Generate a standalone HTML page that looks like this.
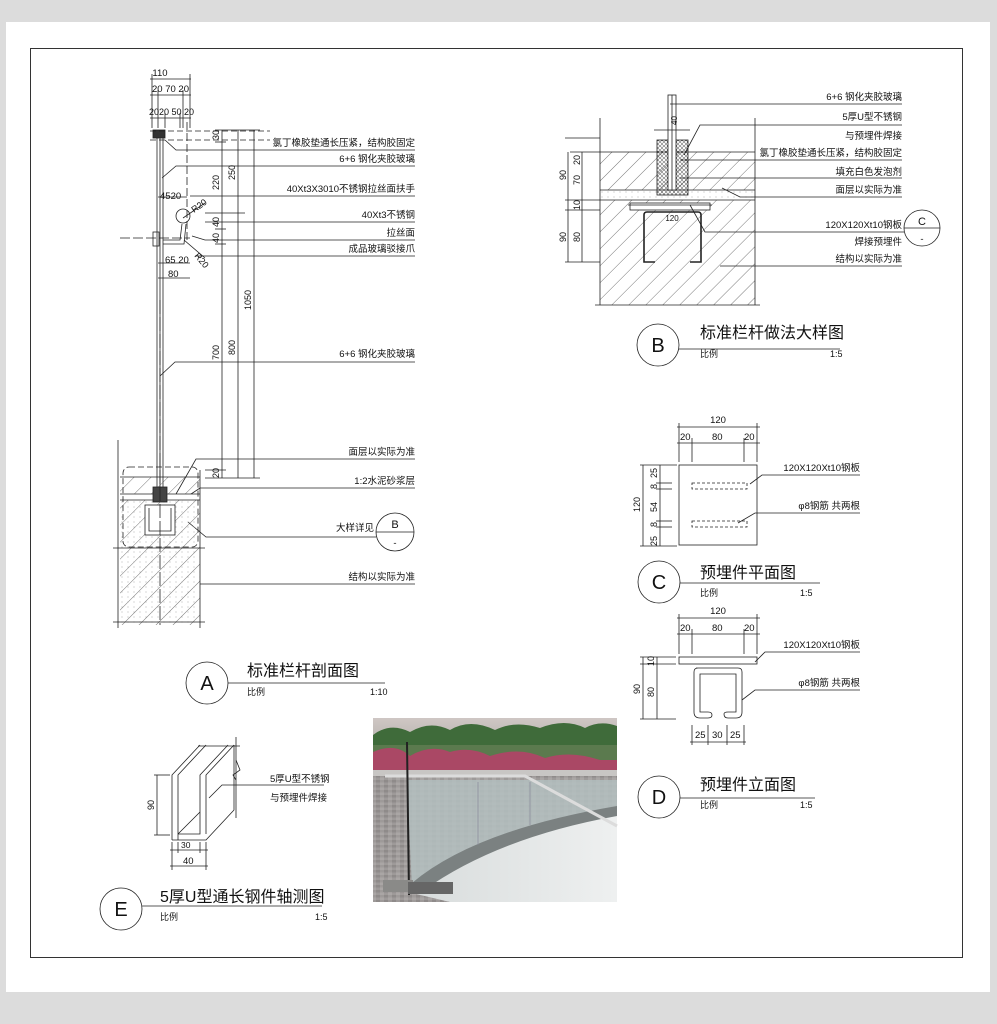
<!DOCTYPE html>
<html><head><meta charset="utf-8"><style>
html,body{margin:0;padding:0;background:#dcdcdc;}
svg{display:block;}
text{font-family:"Liberation Sans","Noto Sans CJK SC",sans-serif;fill:#111;}
</style></head><body>
<svg width="997" height="1024" viewBox="0 0 997 1024" xmlns="http://www.w3.org/2000/svg">
<defs>
<pattern id="hat" width="12" height="12" patternUnits="userSpaceOnUse" patternTransform="rotate(45)">
<line x1="0" y1="0" x2="0" y2="12" stroke="#555" stroke-width="0.8"/></pattern>
<pattern id="dots" width="6" height="5" patternUnits="userSpaceOnUse">
<circle cx="2" cy="2" r="0.5" fill="#999"/></pattern>
<pattern id="hex" width="4" height="4" patternUnits="userSpaceOnUse">
<circle cx="2" cy="2" r="1.4" fill="none" stroke="#333" stroke-width="0.5"/></pattern>
<pattern id="pave" width="8" height="5" patternUnits="userSpaceOnUse">
<rect width="8" height="5" fill="#9e9a99"/><rect x="0" y="0" width="4" height="2.5" fill="#8f8b8a"/><rect x="4" y="2.5" width="4" height="2.5" fill="#aaa6a5"/></pattern>
<linearGradient id="sky" x1="0" y1="0" x2="0" y2="1"><stop offset="0" stop-color="#cfc7c4"/><stop offset="1" stop-color="#b9b4b0"/></linearGradient>
<linearGradient id="wall" x1="0" y1="0" x2="1" y2="0"><stop offset="0" stop-color="#d8dcdc"/><stop offset="1" stop-color="#eef0f0"/></linearGradient>
</defs>
<rect x="6" y="22" width="984" height="970" fill="#fff"/>
<rect x="30.5" y="48.5" width="932" height="909" fill="none" stroke="#333" stroke-width="1"/>

<g stroke="#222" stroke-width="0.8" fill="none">
<line x1="150" y1="79" x2="191" y2="79"/><line x1="150" y1="95" x2="191" y2="95"/><line x1="150" y1="118" x2="191" y2="118"/>
<line x1="152" y1="74" x2="152" y2="128"/><line x1="190" y1="74" x2="190" y2="128"/>
<line x1="158" y1="90" x2="158" y2="128"/><line x1="183" y1="90" x2="183" y2="128"/>
<line x1="165" y1="113" x2="165" y2="128"/><line x1="180" y1="113" x2="180" y2="128"/>
<line x1="157" y1="138" x2="157" y2="490"/><line x1="160" y1="138" x2="160" y2="490"/><line x1="163" y1="138" x2="163" y2="490"/>
<rect x="153" y="130" width="12" height="8" fill="#333"/>
<line x1="150" y1="131" x2="270" y2="131" stroke-dasharray="6,3"/>
<line x1="150" y1="140" x2="270" y2="140" stroke-dasharray="6,3"/>
<line x1="187" y1="122" x2="187" y2="240" stroke-dasharray="8,3"/>
<line x1="120" y1="238" x2="190" y2="238" stroke-dasharray="10,3"/>
<circle cx="183" cy="216" r="7"/>
<path d="M163 240 L180 240 L182 224 M163 244 L184 244 L186 224"/>
<rect x="153" y="232" width="6" height="14"/>
<line x1="183" y1="218" x2="205" y2="203"/><line x1="184" y1="240" x2="205" y2="258"/>
<line x1="222" y1="130" x2="222" y2="478"/><line x1="238" y1="130" x2="238" y2="478"/><line x1="254" y1="130" x2="254" y2="478"/>
<line x1="215" y1="130" x2="260" y2="130"/><line x1="215" y1="142" x2="226" y2="142"/>
<line x1="205" y1="213" x2="245" y2="213"/><line x1="215" y1="229" x2="226" y2="229"/><line x1="215" y1="244" x2="226" y2="244"/>
<line x1="205" y1="470" x2="226" y2="470"/><line x1="205" y1="478" x2="260" y2="478"/>
<line x1="158" y1="197" x2="187" y2="197"/><line x1="158" y1="263" x2="190" y2="263"/><line x1="158" y1="278" x2="190" y2="278"/>
<path d="M165 140 L176 150 L415 150"/>
<path d="M162 178 L176 166 L415 166"/>
<path d="M190 196 L415 196"/>
<path d="M205 222 L415 222"/>
<path d="M192 236 L205 240 L415 240"/>
<path d="M195 256 L415 256"/>
<path d="M160 376 L175 362 L415 362"/>
<path d="M176 494 L196 459 L415 459"/>
<path d="M182 500 L200 488 L415 488"/>
<path d="M188 522 L206 537 L376 537"/>
<path d="M200 584 L415 584"/>
<circle cx="395" cy="532" r="19"/><line x1="376" y1="532" x2="414" y2="532"/>
<rect x="120" y="477" width="80" height="148" fill="url(#hat)" stroke="none"/>
<rect x="120" y="494" width="80" height="6" fill="#fff" stroke="none"/>
<rect x="120" y="500" width="80" height="125" fill="url(#dots)" stroke="none"/>
<line x1="118" y1="440" x2="118" y2="628"/><line x1="200" y1="470" x2="200" y2="628"/>
<line x1="120" y1="477" x2="200" y2="477"/><line x1="120" y1="494" x2="200" y2="494"/><line x1="120" y1="500" x2="200" y2="500"/>
<line x1="113" y1="548" x2="205" y2="548"/><line x1="113" y1="622" x2="205" y2="622"/>
<rect x="123" y="467" width="75" height="80" rx="6" stroke-dasharray="6,3"/>
<rect x="153" y="487" width="14" height="15" fill="#444"/>
<rect x="145" y="505" width="30" height="30" fill="#fff"/>
<path d="M149 508 L149 531 L171 531 L171 508"/>
<line x1="160" y1="300" x2="160" y2="625" stroke-dasharray="14,3"/>

<line x1="570" y1="152" x2="600" y2="152"/>
<rect x="600" y="152" width="155" height="38" fill="url(#hat)" stroke="none"/>
<rect x="600" y="190" width="155" height="10" fill="url(#dots)" stroke="none"/>
<rect x="600" y="200" width="155" height="105" fill="url(#hat)" stroke="none"/>
<line x1="600" y1="118" x2="600" y2="305"/><line x1="755" y1="118" x2="755" y2="305"/>
<line x1="600" y1="152" x2="755" y2="152"/><line x1="600" y1="190" x2="755" y2="190"/><line x1="600" y1="200" x2="755" y2="200"/>
<line x1="595" y1="305" x2="760" y2="305"/>
<rect x="657" y="140" width="31" height="55" fill="url(#hex)"/>
<rect x="668" y="95" width="8" height="95" fill="#fff"/>
<line x1="672" y1="95" x2="672" y2="190"/>
<rect x="630" y="203" width="80" height="7" fill="#fff"/>
<path d="M647 212 L698 212 Q701 212 701 215 L701 262 L690 262 M647 212 Q644 212 644 215 L644 262 L655 262" stroke-width="1.6"/>
<line x1="628" y1="205" x2="712" y2="205"/>
<line x1="568" y1="152" x2="568" y2="262"/><line x1="582" y1="152" x2="582" y2="262"/>
<line x1="565" y1="138" x2="600" y2="138"/><line x1="565" y1="200" x2="600" y2="200"/><line x1="565" y1="210" x2="600" y2="210"/><line x1="565" y1="262" x2="600" y2="262"/>
<line x1="654" y1="130" x2="690" y2="130"/>
<path d="M670 104 L902 104"/><path d="M684 155 L700 125 L902 125"/><path d="M680 160 L902 160"/>
<path d="M680 178 L902 178"/><path d="M722 188 L740 197 L902 197"/><path d="M690 205 L705 232 L904 232"/><path d="M720 266 L902 266"/>
<circle cx="922" cy="228" r="18"/><line x1="904" y1="228" x2="940" y2="228"/>
<circle cx="658" cy="345" r="21"/><line x1="679" y1="349" x2="840" y2="349"/>

<rect x="679" y="465" width="78" height="80"/>
<rect x="692" y="483" width="55" height="6" stroke-dasharray="3,2"/>
<rect x="692" y="521" width="55" height="6" stroke-dasharray="3,2"/>
<line x1="677" y1="427" x2="760" y2="427"/><line x1="677" y1="443" x2="760" y2="443"/>
<line x1="679" y1="423" x2="679" y2="462"/><line x1="757" y1="423" x2="757" y2="462"/>
<line x1="692" y1="438" x2="692" y2="462"/><line x1="744" y1="438" x2="744" y2="462"/>
<line x1="643" y1="465" x2="643" y2="546"/><line x1="660" y1="465" x2="660" y2="546"/>
<line x1="640" y1="465" x2="677" y2="465"/><line x1="640" y1="546" x2="677" y2="546"/>
<line x1="656" y1="483" x2="672" y2="483"/><line x1="656" y1="489" x2="672" y2="489"/>
<line x1="656" y1="521" x2="672" y2="521"/><line x1="656" y1="527" x2="672" y2="527"/>
<path d="M750 484 L762 475 L860 475"/><path d="M738 523 L755 513 L860 513"/>
<circle cx="659" cy="582" r="21"/><line x1="680" y1="583" x2="820" y2="583"/>

<rect x="679" y="657" width="78" height="7"/>
<path d="M696 668 L738 668 Q742 668 742 672 L742 712 Q742 718 736 718 L728 718 Q724 718 724 714 Q724 712 728 712 L736 712 L736 674 L700 674 L700 712 L708 712 Q712 712 712 715 Q712 718 708 718 L700 718 Q694 718 694 712 L694 672 Q694 668 698 668"/>
<line x1="677" y1="618" x2="760" y2="618"/><line x1="677" y1="634" x2="760" y2="634"/>
<line x1="679" y1="614" x2="679" y2="654"/><line x1="757" y1="614" x2="757" y2="654"/>
<line x1="692" y1="629" x2="692" y2="654"/><line x1="744" y1="629" x2="744" y2="654"/>
<line x1="643" y1="657" x2="643" y2="719"/><line x1="657" y1="657" x2="657" y2="719"/>
<line x1="640" y1="657" x2="676" y2="657"/><line x1="640" y1="664" x2="676" y2="664"/><line x1="640" y1="719" x2="676" y2="719"/>
<line x1="690" y1="742" x2="746" y2="742"/>
<line x1="692" y1="725" x2="692" y2="745"/><line x1="708" y1="725" x2="708" y2="745"/><line x1="727" y1="725" x2="727" y2="745"/><line x1="744" y1="725" x2="744" y2="745"/>
<path d="M755 662 L765 652 L860 652"/><path d="M742 700 L755 690 L860 690"/>
<circle cx="659" cy="797" r="21"/><line x1="680" y1="798" x2="815" y2="798"/>

<circle cx="207" cy="683" r="21"/><line x1="228" y1="683" x2="385" y2="683"/>

<path d="M172 840 L172 775 L200 745 M178 840 L178 775 L206 745 M178 834 L200 834 L200 775 L228 745 M206 834 L206 775 L234 745 M172 840 L206 840 L234 810 L234 745 M200 834 L178 834 M178 834 L200 812"/>
<line x1="198" y1="746" x2="240" y2="746"/><line x1="236" y1="737" x2="236" y2="818"/>
<path d="M236 760 L240 770 L233 775 L236 780"/>
<path d="M209 798 L222 785 L324 785"/>
<line x1="157" y1="775" x2="157" y2="835"/><line x1="154" y1="775" x2="170" y2="775"/><line x1="154" y1="835" x2="170" y2="835"/>
<line x1="172" y1="842" x2="172" y2="870"/><line x1="206" y1="842" x2="206" y2="870"/><line x1="178" y1="842" x2="178" y2="853"/><line x1="200" y1="842" x2="200" y2="853"/>
<line x1="170" y1="850" x2="208" y2="850"/><line x1="170" y1="866" x2="208" y2="866"/>
<circle cx="121" cy="909" r="21"/><line x1="142" y1="906" x2="322" y2="906"/>
</g>

<g font-size="9.5">
<text x="160" y="76" text-anchor="middle">110</text>
<text x="152" y="92">20 70 20</text>
<text x="149" y="115" font-size="9">2020 50 20</text>
<text x="160" y="199">4520</text>
<text x="165" y="263">65 20</text>
<text x="168" y="277">80</text>
<text x="415" y="146" text-anchor="end">氯丁橡胶垫通长压紧，结构胶固定</text>
<text x="415" y="162" text-anchor="end">6+6 钢化夹胶玻璃</text>
<text x="415" y="192" text-anchor="end">40Xt3X3010不锈钢拉丝面扶手</text>
<text x="415" y="218" text-anchor="end">40Xt3不锈钢</text>
<text x="415" y="236" text-anchor="end">拉丝面</text>
<text x="415" y="252" text-anchor="end">成品玻璃驳接爪</text>
<text x="415" y="357" text-anchor="end">6+6 钢化夹胶玻璃</text>
<text x="415" y="455" text-anchor="end">面层以实际为准</text>
<text x="415" y="484" text-anchor="end">1:2水泥砂浆层</text>
<text x="374" y="531" text-anchor="end">大样详见</text>
<text x="415" y="580" text-anchor="end">结构以实际为准</text>
<text x="395" y="528" text-anchor="middle" font-size="11">B</text><text x="395" y="546" text-anchor="middle">-</text>
<g font-size="9">
<text transform="translate(219,140) rotate(-90)">30</text>
<text transform="translate(219,190) rotate(-90)">220</text>
<text transform="translate(235,180) rotate(-90)">250</text>
<text transform="translate(219,227) rotate(-90)">40</text>
<text transform="translate(219,243) rotate(-90)">40</text>
<text transform="translate(251,310) rotate(-90)">1050</text>
<text transform="translate(235,355) rotate(-90)">800</text>
<text transform="translate(219,360) rotate(-90)">700</text>
<text transform="translate(219,478) rotate(-90)">20</text>
<text transform="translate(194,213) rotate(-35)">R20</text>
<text transform="translate(194,256) rotate(50)">R20</text>
</g>
</g>
<text x="207" y="690" text-anchor="middle" font-size="20">A</text>
<text x="247" y="676" font-size="16">标准栏杆剖面图</text>
<text x="247" y="695" font-size="9">比例</text><text x="370" y="695" font-size="9" fill="#555">1:10</text>

<g font-size="9.5">
<text x="902" y="100" text-anchor="end">6+6 钢化夹胶玻璃</text>
<text x="902" y="120" text-anchor="end">5厚U型不锈钢</text>
<text x="902" y="139" text-anchor="end">与预埋件焊接</text>
<text x="902" y="156" text-anchor="end">氯丁橡胶垫通长压紧，结构胶固定</text>
<text x="902" y="175" text-anchor="end">填充白色发泡剂</text>
<text x="902" y="193" text-anchor="end">面层以实际为准</text>
<text x="902" y="228" text-anchor="end">120X120Xt10钢板</text>
<text x="902" y="245" text-anchor="end">焊接预埋件</text>
<text x="902" y="262" text-anchor="end">结构以实际为准</text>
<text x="922" y="225" text-anchor="middle" font-size="11">C</text><text x="922" y="242" text-anchor="middle">-</text>
<text x="672" y="221" text-anchor="middle" font-size="8">120</text>
<g font-size="9">
<text transform="translate(566,180) rotate(-90)">90</text>
<text transform="translate(580,165) rotate(-90)">20</text>
<text transform="translate(580,185) rotate(-90)">70</text>
<text transform="translate(580,210) rotate(-90)">10</text>
<text transform="translate(566,242) rotate(-90)">90</text>
<text transform="translate(580,242) rotate(-90)">80</text>
<text transform="translate(677,125) rotate(-90)" font-size="8">40</text>
</g>
</g>
<text x="658" y="352" text-anchor="middle" font-size="20">B</text>
<text x="700" y="338" font-size="16">标准栏杆做法大样图</text>
<text x="700" y="357" font-size="9">比例</text><text x="830" y="357" font-size="9" fill="#555">1:5</text>

<g font-size="9.5">
<text x="718" y="423" text-anchor="middle">120</text>
<text x="680" y="440">20</text><text x="712" y="440">80</text><text x="744" y="440">20</text>
<text x="860" y="471" text-anchor="end">120X120Xt10钢板</text>
<text x="860" y="509" text-anchor="end">φ8钢筋 共两根</text>
<g font-size="9">
<text transform="translate(640,512) rotate(-90)">120</text>
<text transform="translate(657,478) rotate(-90)">25</text>
<text transform="translate(657,489) rotate(-90)">8</text>
<text transform="translate(657,512) rotate(-90)">54</text>
<text transform="translate(657,527) rotate(-90)">8</text>
<text transform="translate(657,546) rotate(-90)">25</text>
</g>
</g>
<text x="659" y="589" text-anchor="middle" font-size="20">C</text>
<text x="700" y="578" font-size="16">预埋件平面图</text>
<text x="700" y="596" font-size="9">比例</text><text x="800" y="596" font-size="9" fill="#555">1:5</text>

<g font-size="9.5">
<text x="718" y="614" text-anchor="middle">120</text>
<text x="680" y="631">20</text><text x="712" y="631">80</text><text x="744" y="631">20</text>
<text x="860" y="648" text-anchor="end">120X120Xt10钢板</text>
<text x="860" y="686" text-anchor="end">φ8钢筋 共两根</text>
<text x="695" y="738">25</text><text x="712" y="738">30</text><text x="730" y="738">25</text>
<g font-size="9">
<text transform="translate(640,694) rotate(-90)">90</text>
<text transform="translate(654,697) rotate(-90)">80</text>
<text transform="translate(654,666) rotate(-90)">10</text>
</g>
</g>
<text x="659" y="804" text-anchor="middle" font-size="20">D</text>
<text x="700" y="790" font-size="16">预埋件立面图</text>
<text x="700" y="808" font-size="9">比例</text><text x="800" y="808" font-size="9" fill="#555">1:5</text>

<g font-size="9.5">
<text x="270" y="782">5厚U型不锈钢</text>
<text x="270" y="801">与预埋件焊接</text>
<text x="181" y="848" font-size="8.5">30</text>
<text x="183" y="864">40</text>
<text transform="translate(154,810) rotate(-90)" font-size="9">90</text>
</g>
<text x="121" y="916" text-anchor="middle" font-size="20">E</text>
<text x="160" y="902" font-size="16">5厚U型通长钢件轴测图</text>
<text x="160" y="920" font-size="9">比例</text><text x="315" y="920" font-size="9" fill="#555">1:5</text>

<g>
<rect x="373" y="718" width="244" height="184" fill="url(#pave)"/>
<rect x="373" y="718" width="244" height="25" fill="url(#sky)"/>
<path d="M373 735 Q390 722 410 732 Q430 720 450 730 Q470 718 495 730 Q515 720 540 728 Q565 718 585 728 Q600 720 617 726 L617 770 L373 770 Z" fill="#3f6b3a"/>
<rect x="373" y="745" width="244" height="25" fill="#5b7a4e"/>
<path d="M373 752 Q395 742 410 756 Q430 744 450 752 Q470 746 490 756 Q520 746 545 758 Q570 750 600 760 L617 760 L617 772 L373 772 Z" fill="#b8406a" opacity="0.85"/>
<rect x="373" y="770" width="244" height="6" fill="#c8c6c4"/>
<path d="M407 780 L617 780 L617 830 Q500 840 412 890 Z" fill="#b4bfbf" opacity="0.85"/>
<path d="M412 893 Q480 835 617 815 L617 902 L450 902 Z" fill="url(#wall)"/>
<path d="M412 883 Q475 830 617 806 L617 816 Q495 838 420 893 Z" fill="#7b8181"/>
<line x1="478" y1="782" x2="478" y2="845" stroke="#889" stroke-width="0.7"/>
<line x1="530" y1="782" x2="530" y2="825" stroke="#889" stroke-width="0.7"/>
<path d="M385 776 L525 776 L617 826" stroke="#dcdcdc" stroke-width="3" fill="none"/>
<line x1="407" y1="742" x2="409" y2="895" stroke="#222" stroke-width="2"/>
<rect x="383" y="880" width="30" height="12" fill="#8a8a88"/>
<rect x="408" y="882" width="45" height="12" fill="#666"/>
</g>
</svg>
</body></html>
